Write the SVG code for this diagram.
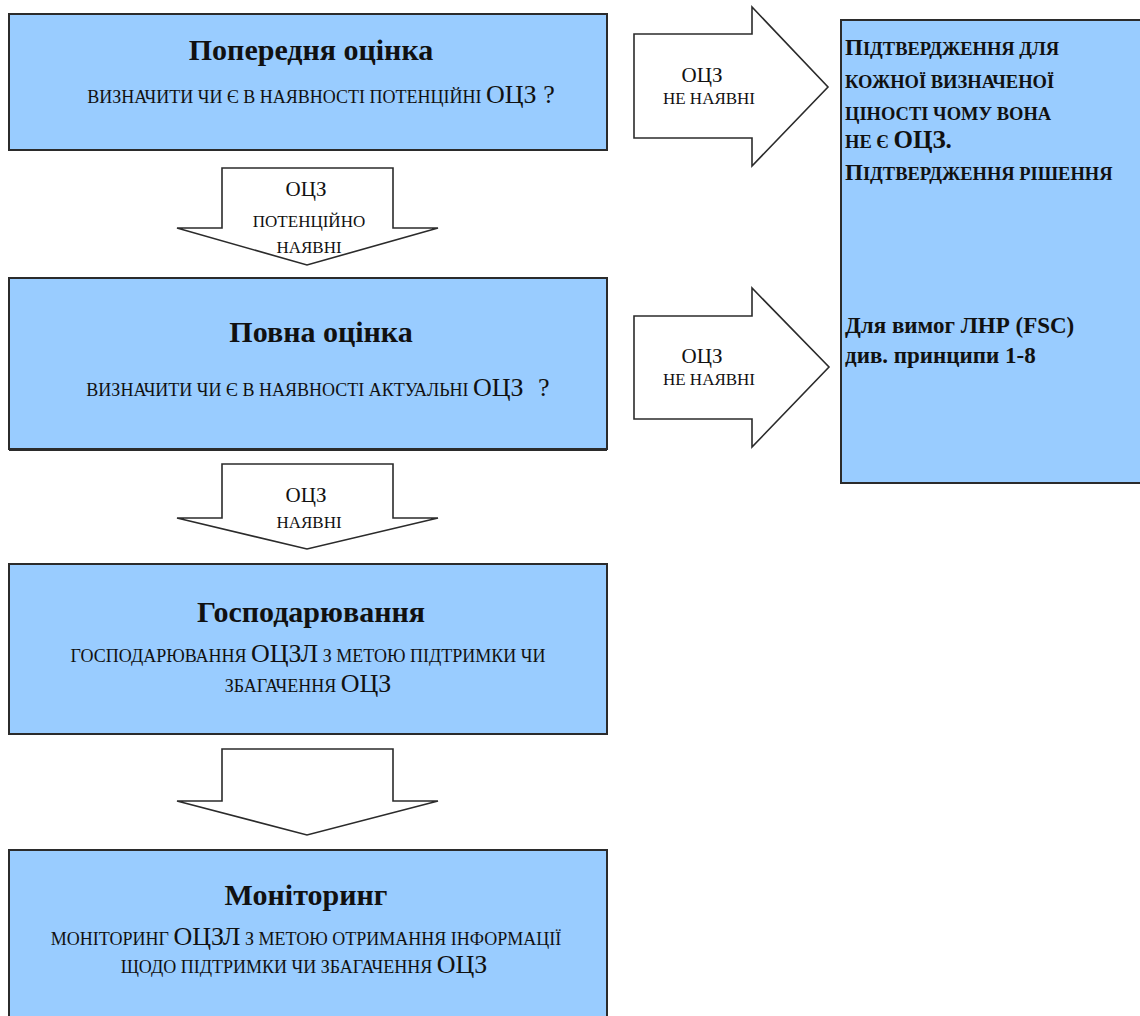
<svg xmlns="http://www.w3.org/2000/svg" width="1140" height="1016" viewBox="0 0 1140 1016">
<style>
.box{fill:#99ccff;stroke:#2b2b2b;stroke-width:2}
.arr{fill:#ffffff;stroke:#2b2b2b;stroke-width:1.6;stroke-linejoin:miter}
text{font-family:"Liberation Serif","DejaVu Serif","Times New Roman",serif;fill:#111}
.ttl{font-size:30px;font-weight:bold;text-anchor:middle}
.sub{font-size:18px;text-anchor:middle}
.big{font-size:26px}
.al{font-size:17px;text-anchor:middle}
.ab{font-size:21px}
.rb{font-weight:bold;font-size:18.5px}
.rbig{font-size:23px}
.rn{font-weight:bold;font-size:23px}
</style>
<rect width="1140" height="1016" fill="#ffffff"/>
<g id="connectors">
<polygon class="arr" points="222,168 393,168 393,228 438,228 307,265 177,228 222,228"/>
<polygon class="arr" points="222,464 393,464 393,518 438,518 307,549 177,518 222,518"/>
<polygon class="arr" points="222,749 393,749 393,801 438,801 307,835 177,801 222,801"/>
<polygon class="arr" points="634,34 752,34 752,7 828,87 752,166 752,138 634,138"/>
<polygon class="arr" points="634,316 752,316 752,288 829,367 752,447 752,419 634,419"/>
<text class="al" x="306" y="196"><tspan class="ab">ОЦЗ</tspan></text>
<text class="al" x="309" y="227">ПОТЕНЦІЙНО</text>
<text class="al" x="309" y="253">НАЯВНІ</text>
<text class="al" x="306" y="502"><tspan class="ab">ОЦЗ</tspan></text>
<text class="al" x="309" y="528">НАЯВНІ</text>
<text class="al" x="702" y="82"><tspan class="ab">ОЦЗ</tspan></text>
<text class="al" x="709" y="104">НЕ НАЯВНІ</text>
<text class="al" x="702" y="363"><tspan class="ab">ОЦЗ</tspan></text>
<text class="al" x="709" y="385">НЕ НАЯВНІ</text>
</g>
<g id="node-preliminary">
<rect class="box" x="9" y="14" width="598" height="136"/>
<text class="ttl" x="311" y="60">Попередня оцінка</text>
<text class="sub" x="321" y="103">ВИЗНАЧИТИ ЧИ Є В НАЯВНОСТІ ПОТЕНЦІЙНІ <tspan class="big">ОЦЗ ?</tspan></text>
</g>
<g id="node-full">
<rect class="box" x="9" y="278" width="598" height="171"/>
<line x1="9" y1="450" x2="607" y2="450" stroke="#2b2b2b" stroke-width="2"/>
<text class="ttl" x="321" y="342">Повна оцінка</text>
<text class="sub" x="318" y="396">ВИЗНАЧИТИ ЧИ Є В НАЯВНОСТІ АКТУАЛЬНІ <tspan class="big">ОЦЗ</tspan><tspan class="big" dx="8"> ?</tspan></text>
</g>
<g id="node-management">
<rect class="box" x="9" y="564" width="598" height="170"/>
<text class="ttl" x="311" y="622">Господарювання</text>
<text class="sub" x="308" y="662">ГОСПОДАРЮВАННЯ <tspan class="big">ОЦЗЛ</tspan> З МЕТОЮ ПІДТРИМКИ ЧИ</text>
<text class="sub" x="308" y="692">ЗБАГАЧЕННЯ <tspan class="big">ОЦЗ</tspan></text>
</g>
<g id="node-monitoring">
<rect class="box" x="9" y="850" width="598" height="180"/>
<text class="ttl" x="306" y="905">Моніторинг</text>
<text class="sub" x="306" y="945">МОНІТОРИНГ <tspan class="big">ОЦЗЛ</tspan> З МЕТОЮ ОТРИМАННЯ ІНФОРМАЦІЇ</text>
<text class="sub" x="304" y="973">ЩОДО ПІДТРИМКИ ЧИ ЗБАГАЧЕННЯ <tspan class="big">ОЦЗ</tspan></text>
</g>
<g id="node-not-present">
<rect class="box" x="841" y="20" width="320" height="463"/>
<text class="rb" x="845" y="55"><tspan class="rbig">П</tspan>ІДТВЕРДЖЕННЯ ДЛЯ</text>
<text class="rb" x="845" y="88">КОЖНОЇ ВИЗНАЧЕНОЇ</text>
<text class="rb" x="845" y="120">ЦІНОСТІ ЧОМУ ВОНА</text>
<text class="rb" x="845" y="148">НЕ Є <tspan style="font-size:25px">ОЦЗ.</tspan></text>
<text class="rb" x="845" y="180"><tspan class="rbig">П</tspan>ІДТВЕРДЖЕННЯ РІШЕННЯ</text>
<text class="rn" x="845" y="333">Для вимог ЛНР (FSC)</text>
<text class="rn" x="845" y="363">див. принципи 1-8</text>
</g>
</svg>
